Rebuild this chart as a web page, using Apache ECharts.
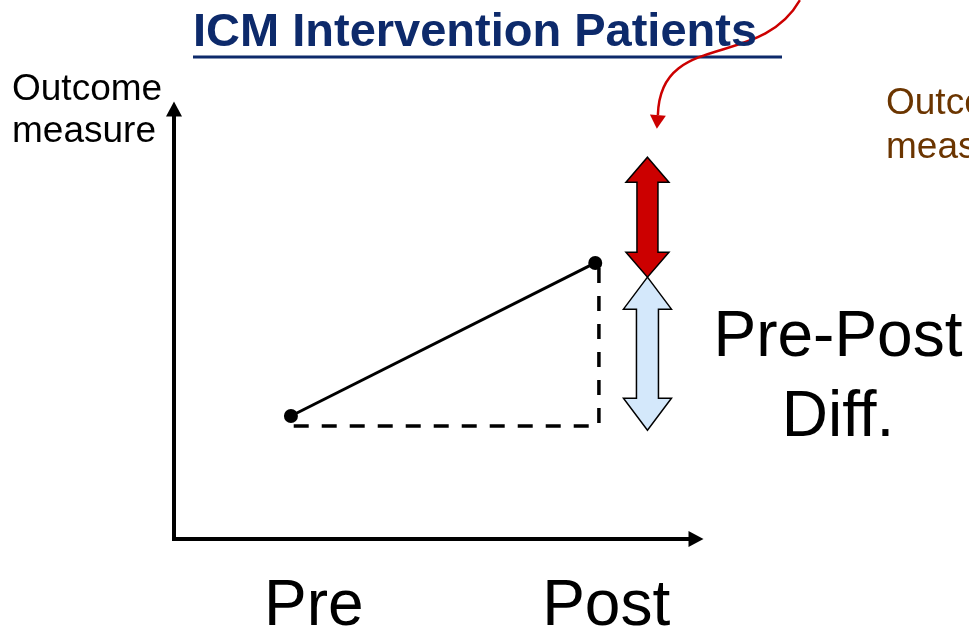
<!DOCTYPE html>
<html>
<head>
<meta charset="utf-8">
<script src="https://cdn.jsdelivr.net/npm/echarts@6/dist/echarts.min.js"></script>
<style>
  html, body { margin: 0; padding: 0; background: #ffffff; }
  #chart { width: 969px; height: 633px; }
</style>
</head>
<body>
<div id="chart"></div>
<script>
// ---- data (schematic values, in axis units 0..10) ----
const categories = ['Pre', 'Post'];
const periodX = [2.24, 8.07];          // where the two measurements sit on x
const outcome = [2.86, 6.42];          // outcome measure at Pre and Post
const categoryLabelX = [2.68, 8.28];   // where the Pre / Post labels sit
const guideBaseline = 2.63;            // dashed reference level
const guideX = 8.14;                   // dashed vertical guide
const guideTop = 6.30;
const gapX = [9.07, 9.07];             // double arrows position
const gapTop = [8.88, 6.09];           // red (extra effect), blue (pre-post diff)
const gapBottom = [6.09, 2.53];
const calloutCurve = [[11.99, 12.53], [11.23, 10.91], [9.31, 11.84], [9.27, 9.86]];
const calloutTip = [9.25, 9.54];

const titleText = 'ICM Intervention Patients';
const yName = 'Outcome\nmeasure';
const sideName = 'Outcome\nmeasure';
const diffLabel = 'Pre-Post\nDiff.';

// ---- styles ----
const FONT = 'Liberation Sans, Arial, sans-serif';
const NAVY = '#0d2a6b';
const arrowStyles = [
  { fill: '#cc0000', hw: 21.5, hl: 25, sw: 10.5 },
  { fill: '#d4e8fb', hw: 24, hl: 32, sw: 11 }
];

const chart = echarts.init(document.getElementById('chart'), null, { renderer: 'canvas' });

const linePoints = periodX.map((x, i) => [x, outcome[i]]);
const guidePoints = [
  [guideX, guideTop], [guideX, guideBaseline],
  [periodX[0], guideBaseline], [periodX[0], outcome[0]]
];
const gapData = gapX.map((x, i) => [x, gapTop[i], gapBottom[i], i]);

const option = {
  animation: false,
  backgroundColor: '#ffffff',
  title: [
    {
      text: titleText, left: 193, top: 10, padding: 0,
      textStyle: { fontFamily: FONT, fontSize: 47, fontWeight: 'bold', color: NAVY }
    },
    {
      text: yName, left: 12, top: 69, padding: 0,
      textStyle: { fontFamily: FONT, fontSize: 37, fontWeight: 'normal', color: '#000', lineHeight: 42 }
    },
    {
      text: sideName, left: 886, top: 82, padding: 0,
      textStyle: { fontFamily: FONT, fontSize: 37, fontWeight: 'normal', color: '#6b3500', lineHeight: 44 }
    },
    {
      text: diffLabel, left: 838, top: 298, padding: 0, textAlign: 'center',
      textStyle: { fontFamily: FONT, fontSize: 64, fontWeight: 'normal', color: '#000', lineHeight: 80, align: 'center' }
    }
  ],
  graphic: [
    { type: 'line', shape: { x1: 193, y1: 57, x2: 782, y2: 57 }, style: { stroke: NAVY, lineWidth: 3 } }
  ],
  grid: { left: 174, top: 109, width: 522, height: 430, containLabel: false, outerBoundsMode: 'none' },
  xAxis: {
    type: 'value', min: 0, max: 10,
    splitLine: { show: false },
    axisTick: { show: false },
    axisLine: {
      show: true, onZero: false,
      symbol: ['none', 'triangle'], symbolSize: [16, 15],
      lineStyle: { color: '#000', width: 4, cap: 'square' }
    },
    axisLabel: {
      show: true, customValues: categoryLabelX, margin: 36,
      fontFamily: FONT, fontSize: 64, color: '#000',
      formatter: (v) => {
        const i = categoryLabelX.indexOf(v);
        return i >= 0 ? categories[i] : '';
      }
    }
  },
  yAxis: {
    type: 'value', min: 0, max: 10,
    splitLine: { show: false },
    axisTick: { show: false },
    axisLabel: { show: false },
    axisLine: {
      show: true, onZero: false,
      symbol: ['none', 'triangle'], symbolSize: [16, 15],
      lineStyle: { color: '#000', width: 4, cap: 'square' }
    }
  },
  series: [
    {
      type: 'line', data: guidePoints, symbol: 'none', silent: true,
      lineStyle: { color: '#000', width: 3.5, type: [15, 13] }, z: 2
    },
    {
      type: 'line', data: linePoints, symbol: 'circle', symbolSize: 14,
      itemStyle: { color: '#000' }, lineStyle: { color: '#000', width: 3 }, z: 3
    },
    {
      type: 'custom', data: gapData, clip: false, z: 4,
      renderItem: (params, api) => {
        const x = api.value(0);
        const st = arrowStyles[api.value(3)];
        const p1 = api.coord([x, api.value(1)]);
        const p2 = api.coord([x, api.value(2)]);
        const cx = p1[0], t = p1[1], b = p2[1];
        const pts = [
          [cx, t], [cx + st.hw, t + st.hl], [cx + st.sw, t + st.hl],
          [cx + st.sw, b - st.hl], [cx + st.hw, b - st.hl], [cx, b],
          [cx - st.hw, b - st.hl], [cx - st.sw, b - st.hl],
          [cx - st.sw, t + st.hl], [cx - st.hw, t + st.hl]
        ];
        return {
          type: 'polygon', shape: { points: pts },
          style: { fill: st.fill, stroke: '#000', lineWidth: 1.5, lineJoin: 'miter' }
        };
      }
    },
    {
      type: 'custom', data: [[0]], clip: false, z: 5,
      renderItem: (params, api) => {
        const c = calloutCurve.map(p => api.coord(p));
        const tip = api.coord(calloutTip);
        const base = c[3];
        let dx = tip[0] - base[0], dy = tip[1] - base[1];
        const len = Math.sqrt(dx * dx + dy * dy);
        dx /= len; dy /= len;
        const w = 8;
        return {
          type: 'group',
          children: [
            {
              type: 'bezierCurve',
              shape: { x1: c[0][0], y1: c[0][1], cpx1: c[1][0], cpy1: c[1][1],
                       cpx2: c[2][0], cpy2: c[2][1], x2: c[3][0], y2: c[3][1] },
              style: { stroke: '#cc0000', lineWidth: 2.5, fill: null }
            },
            {
              type: 'polygon',
              shape: { points: [tip, [base[0] - dy * w, base[1] + dx * w], [base[0] + dy * w, base[1] - dx * w]] },
              style: { fill: '#cc0000' }
            }
          ]
        };
      }
    }
  ]
};

chart.setOption(option);
</script>
</body>
</html>
